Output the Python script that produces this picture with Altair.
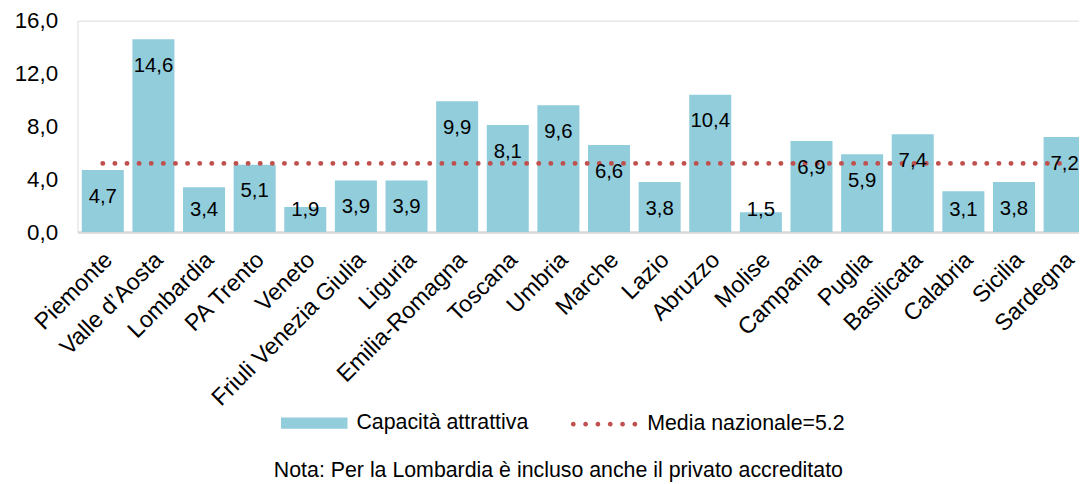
import altair as alt
import pandas as pd

regions = ["Piemonte", "Valle d\u2019Aosta", "Lombardia", "PA Trento", "Veneto",
           "Friuli Venezia Giulia", "Liguria", "Emilia-Romagna", "Toscana", "Umbria",
           "Marche", "Lazio", "Abruzzo", "Molise", "Campania", "Puglia",
           "Basilicata", "Calabria", "Sicilia", "Sardegna"]
values = [4.7, 14.6, 3.4, 5.1, 1.9, 3.9, 3.9, 9.9, 8.1, 9.6,
          6.6, 3.8, 10.4, 1.5, 6.9, 5.9, 7.4, 3.1, 3.8, 7.2]
media_value = 5.2
y_ticks = [0, 4, 8, 12, 16]
bar_series = "Capacit\u00e0 attrattiva"
line_series = "Media nazionale=5.2"
note = "Nota: Per la Lombardia \u00e8 incluso anche il privato accreditato"

BAR_COLOR = "#92CDDC"
LINE_COLOR = "#C0504D"
FONT = "Liberation Sans, Arial, sans-serif"

df = pd.DataFrame({
    "region": regions,
    "value": values,
    "media": [media_value] * len(regions),
    "s_bar": [bar_series] * len(regions),
    "s_line": [line_series] * len(regions),
})

x_enc = alt.X(
    "region:N", sort=regions, title=None,
    scale=alt.Scale(range=[0, 1020], paddingInner=0.17, paddingOuter=0.085),
    axis=alt.Axis(labelAngle=-45, labelAlign="right", labelBaseline="middle",
                  labelPadding=24, labelOffset=6, ticks=False, tickSize=0,
                  domainColor="#D9D9D9", domainWidth=2.5, labelFontSize=23.5,
                  labelLimit=500, labelColor="black", labelFont=FONT),
)
y_scale = alt.Scale(domain=[0, 16], nice=False)
y_axis = alt.Axis(values=y_ticks, labelExpr="replace(format(datum.value, '.1f'), '.', ',')",
                  ticks=False, tickSize=0, domain=False, grid=False, labelPadding=20,
                  labelFontSize=22.5, labelColor="black", labelFont=FONT)

rect_path = "M-1,-0.17H1V0.17H-1Z"
dots = []
for i in range(6):
    cx = -0.94 + i * 0.376
    r = 0.036
    dots.append(f"M{cx - r:.3f},0A{r},{r} 0 1,0 {cx + r:.3f},0A{r},{r} 0 1,0 {cx - r:.3f},0Z")
dots_path = "".join(dots)

base = alt.Chart(df)

bars = base.mark_bar().encode(
    x=x_enc,
    y=alt.Y("value:Q", scale=y_scale, axis=y_axis, title=None),
    fill=alt.Fill("s_bar:N", scale=alt.Scale(range=[BAR_COLOR]),
                  legend=alt.Legend(title=None, orient="none", legendX=205, legendY=372,
                                    symbolType=rect_path, symbolSize=4489,
                                    symbolStrokeWidth=0, labelFontSize=21.5,
                                    labelOffset=9, padding=0, labelColor="black",
                                    labelLimit=500, labelFont=FONT)),
)

line = base.mark_line(strokeWidth=5, strokeDash=[0, 12.2], strokeCap="round").encode(
    x=x_enc,
    y=alt.Y("media:Q", scale=y_scale, title=None),
    stroke=alt.Stroke("s_line:N", scale=alt.Scale(range=[LINE_COLOR]),
                      legend=alt.Legend(title=None, orient="none", legendX=496, legendY=372,
                                        symbolType=dots_path, symbolSize=4356,
                                        symbolFillColor=LINE_COLOR, symbolStrokeWidth=2.4,
                                        symbolDash=[1, 0], labelFontSize=21.5,
                                        labelOffset=9, padding=0, labelColor="black",
                                        labelLimit=500, labelFont=FONT)),
)

text = base.transform_calculate(
    label_y="max(datum.value - 2.03, 1.7)",
    label="replace(format(datum.value, '.1f'), '.', ',')",
).mark_text(baseline="middle", fontSize=20.5, color="black", font=FONT).encode(
    x=x_enc,
    y=alt.Y("label_y:Q", scale=y_scale, title=None),
    text="label:N",
)

chart = alt.layer(bars, line, text).properties(
    width=1009, height=213,
    autosize=alt.AutoSizeParams(type="none"),
    padding={"left": 70, "top": 11, "right": 0, "bottom": 250},
    title=alt.TitleParams(note, orient="bottom", anchor="middle", fontSize=21.5,
                          fontWeight="normal", color="black", font=FONT, dx=-20, offset=26),
).configure_view(stroke=None).configure(font=FONT)

chart.save("out.html", embed_options={"renderer": "svg", "actions": False})
